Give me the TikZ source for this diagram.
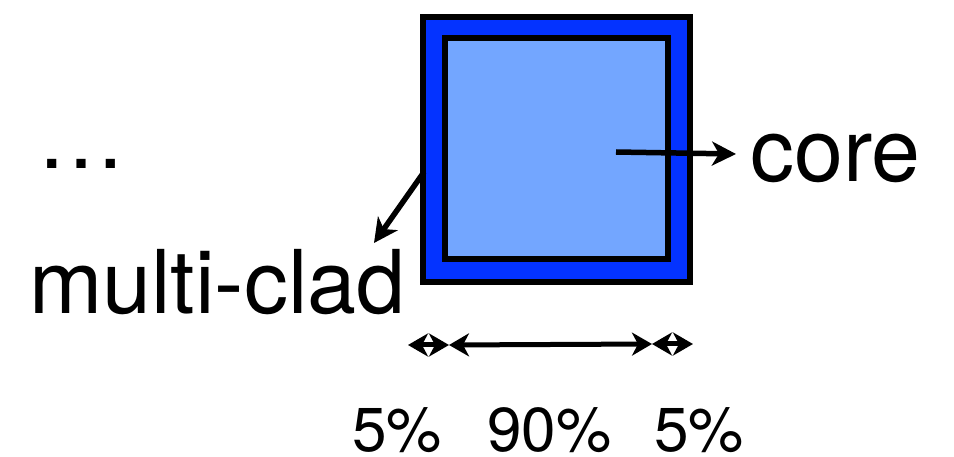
\documentclass[tikz,border=0pt]{standalone}
\usepackage{fontspec}
\setmainfont{TeX Gyre Heros}
\usetikzlibrary{arrows.meta}
\definecolor{cladblue}{RGB}{4,51,255}
\definecolor{coreblue}{RGB}{115,166,255}
\tikzset{
  layer/.style={draw=black, line width=6pt},
  pointer/.style={draw=black, line width=5.5pt, -{Stealth[length=24pt,width=24pt,inset=7pt]}},
  span/.style={draw=black, line width=5pt, {Stealth[length=20pt,width=23pt,inset=6pt]}-{Stealth[length=20pt,width=23pt,inset=6pt]}},
  txt/.style={inner sep=0pt, anchor=base west, font=\fontsize{88}{88}\selectfont},
  pct/.style={inner sep=0pt, anchor=base west, text depth=0pt, font=\fontsize{62}{62}\selectfont}
}
\begin{document}
\begin{tikzpicture}[x=1pt,y=-1pt]
  \useasboundingbox (0,0) rectangle (954,457);
  % cladding and core
  \node[layer, fill=cladblue, minimum width=267pt, minimum height=265pt, inner sep=0pt, anchor=north west] (clad) at (419.5,14.5) {};
  \node[layer, fill=coreblue, minimum width=223pt, minimum height=221pt, inner sep=0pt, anchor=north west] (core) at (441.5,35.5) {};
  % labels
  \node[txt] (dots) at (37,169) {…};
  \node[txt] (corelbl) at (750,182) {core};
  \node[txt] (cladlbl) at (29,313) {multi-clad};
  \node[pct] (pa) at (352,451) {5\%};
  \node[pct] (pb) at (487,451) {90\%};
  \node[pct] (pc) at (654,451) {5\%};
  % pointers
  \coordinate (cin) at (616,152);
  \coordinate (cout) at (736,154);
  \draw[pointer] (cin) -- (cout);
  \coordinate (kin) at (424,172);
  \coordinate (kout) at (374,243);
  \draw[pointer] (kin) -- (kout);
  % width spans
  \coordinate (s0) at (408,345);
  \coordinate (s1) at (449,345);
  \coordinate (s2) at (652,344);
  \coordinate (s3) at (693,344);
  \draw[span] (s0) -- (s1);
  \draw[span] (s1) -- (s2);
  \draw[span] (s2) -- (s3);
\end{tikzpicture}
\end{document}
